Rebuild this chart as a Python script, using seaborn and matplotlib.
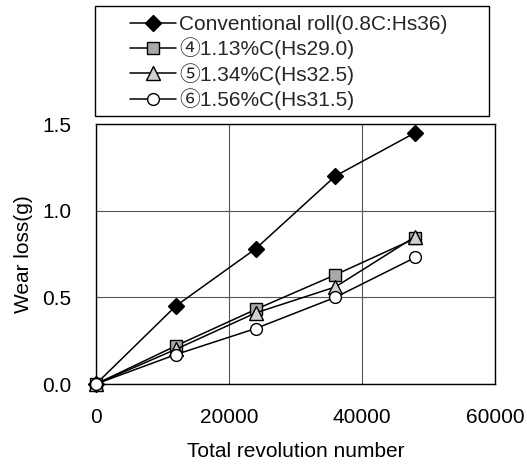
import matplotlib
matplotlib.use("Agg")
import matplotlib.pyplot as plt
import seaborn as sns
import pandas as pd
from matplotlib.patches import Rectangle

revolutions = [0, 12000, 24000, 36000, 48000]
series_names = [
    "Conventional roll(0.8C:Hs36)",
    "④1.13%C(Hs29.0)",
    "⑤1.34%C(Hs32.5)",
    "⑥1.56%C(Hs31.5)",
]
wear_conventional = [0.0, 0.45, 0.78, 1.20, 1.45]
wear_113c = [0.0, 0.22, 0.43, 0.63, 0.84]
wear_134c = [0.0, 0.20, 0.41, 0.56, 0.85]
wear_156c = [0.0, 0.17, 0.32, 0.50, 0.73]
x_ticks = [0, 20000, 40000, 60000]
y_ticks = [0.0, 0.5, 1.0, 1.5]

sns.set_theme(style="white")
plt.rcParams["font.family"] = ["Liberation Sans", "Noto Sans CJK JP", "DejaVu Sans"]

FS = 15

frames = []
for name, vals in zip(series_names, [wear_conventional, wear_113c, wear_134c, wear_156c]):
    frames.append(pd.DataFrame({"rev": revolutions, "wear": vals, "series": name}))
df = pd.concat(frames, ignore_index=True)

styles = {
    series_names[0]: dict(marker="D", markersize=8.5, markerfacecolor="black"),
    series_names[1]: dict(marker="s", markersize=8.5, markerfacecolor="#a9a9a9"),
    series_names[2]: dict(marker="^", markersize=9.5, markerfacecolor="#cfcfcf"),
    series_names[3]: dict(marker="o", markersize=8.5, markerfacecolor="white"),
}

fig = plt.figure(figsize=(5.27, 4.68), dpi=100)
ax = fig.add_axes([96 / 527, 1 - 384 / 468, (495 - 96) / 527, (384 - 124) / 468])

for name in series_names:
    sub = df[df["series"] == name]
    sns.lineplot(data=sub, x="rev", y="wear", ax=ax, color="black", linewidth=1.1,
                 markeredgecolor="black", markeredgewidth=1.0, label=name,
                 clip_on=False, zorder=3, **styles[name])

ax.set_xlim(0, 60000)
ax.set_ylim(0, 1.5)
ax.set_xticks(x_ticks)
ax.set_yticks(y_ticks)
ax.set_xticklabels([str(t) for t in x_ticks])
ax.set_yticklabels([f"{t:.1f}" for t in y_ticks])
ax.tick_params(axis="both", length=0, labelsize=FS, colors="black")
ax.tick_params(axis="x", pad=17)
ax.tick_params(axis="y", pad=18)
ax.grid(True, color="#555555", linewidth=0.8)
for s in ax.spines.values():
    s.set_color("black")
    s.set_linewidth(1.0)
ax.set_xlabel("Total revolution number", fontsize=FS, color="black", labelpad=11)
ax.set_ylabel("Wear loss(g)", fontsize=FS, color="black", labelpad=6)

ax.get_legend().remove()
handles, labels = ax.get_legend_handles_labels()
leg = fig.legend(handles, labels, loc="upper left",
                 bbox_to_anchor=(130 / 527, 1 - 15 / 468),
                 frameon=False, fontsize=FS, handlelength=2.2,
                 handletextpad=0.15, labelspacing=0.17, borderpad=0.0,
                 borderaxespad=0.0)
fig.patches.append(Rectangle((95 / 527, 1 - 116 / 468), (489 - 95) / 527, 110 / 468,
                             transform=fig.transFigure, fill=False,
                             edgecolor="black", linewidth=1.0))

fig.savefig("out.png", dpi=100, facecolor="white")
